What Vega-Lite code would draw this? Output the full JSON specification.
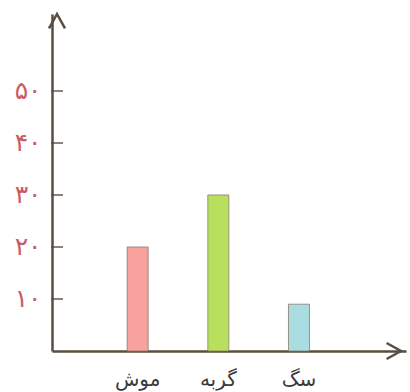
{
  "$schema": "https://vega.github.io/schema/vega-lite/v6.json",
  "autosize": {"type": "none"},
  "width": 354,
  "height": 337,
  "padding": {"left": 52, "top": 14, "right": 4, "bottom": 41},
  "background": "#ffffff",
  "config": {
    "view": {"stroke": null},
    "locale": {
      "number": {
        "decimal": ".",
        "thousands": ",",
        "grouping": [3],
        "currency": ["", ""],
        "numerals": ["۰", "۱", "۲", "۳", "۴", "۵", "۶", "۷", "۸", "۹"]
      }
    }
  },
  "datasets": {
    "bars": [
      {"animal": "موش", "pos": 1, "count": 20, "colour": "#f7a29c"},
      {"animal": "گربه", "pos": 2, "count": 30, "colour": "#b8e05c"},
      {"animal": "سگ", "pos": 3, "count": 9, "colour": "#a9dde2"}
    ],
    "ticks": [{"v": 10}, {"v": 20}, {"v": 30}, {"v": 40}, {"v": 50}]
  },
  "layer": [
    {
      "data": {"name": "bars"},
      "mark": {"type": "bar", "width": 21, "stroke": "#8a7a70", "strokeWidth": 0.8},
      "encoding": {
        "x": {
          "field": "pos", "type": "quantitative",
          "scale": {"domain": [0, 4.265], "nice": false, "zero": false},
          "axis": {"domain": true, "domainColor": "#5a4c3e", "domainWidth": 2.5, "ticks": false, "labels": false, "grid": false, "title": null}
        },
        "y": {
          "field": "count", "type": "quantitative",
          "scale": {"domain": [0, 64.8], "nice": false, "zero": false},
          "axis": {
            "values": [10, 20, 30, 40, 50],
            "domain": true, "domainColor": "#5a4c3e", "domainWidth": 2.5,
            "ticks": false, "grid": false, "title": null,
            "labelFont": "DejaVu Sans", "labelFontSize": 25, "labelColor": "#cc5a64",
            "labelPadding": 11, "format": "d"
          }
        },
        "y2": {"datum": 0},
        "color": {"field": "colour", "type": "nominal", "scale": null, "legend": null}
      }
    },
    {
      "data": {"name": "ticks"},
      "mark": {"type": "tick", "orient": "horizontal", "size": 12, "thickness": 2, "color": "#5a4c3e"},
      "encoding": {
        "x": {"datum": 0, "type": "quantitative"},
        "y": {"field": "v", "type": "quantitative"}
      }
    },
    {
      "data": {"name": "bars"},
      "mark": {"type": "text", "font": "DejaVu Sans", "fontSize": 20, "color": "#3a3a3a", "baseline": "middle", "dy": 29},
      "encoding": {
        "x": {"field": "pos", "type": "quantitative"},
        "y": {"datum": 0, "type": "quantitative"},
        "text": {"field": "animal"}
      }
    },
    {
      "data": {"values": [{"x": 0, "y": 64.8}]},
      "mark": {"type": "point", "shape": "M-1,1.8L0,0L1,1.8", "size": 256, "filled": false, "stroke": "#5a4c3e", "strokeWidth": 2.5, "opacity": 1},
      "encoding": {
        "x": {"field": "x", "type": "quantitative"},
        "y": {"field": "y", "type": "quantitative"}
      }
    },
    {
      "data": {"values": [{"x": 4.265, "y": 0}]},
      "mark": {"type": "point", "shape": "M-1.8,-1L0,0L-1.8,1", "size": 256, "filled": false, "stroke": "#5a4c3e", "strokeWidth": 2.5, "opacity": 1},
      "encoding": {
        "x": {"field": "x", "type": "quantitative"},
        "y": {"field": "y", "type": "quantitative"}
      }
    }
  ]
}
